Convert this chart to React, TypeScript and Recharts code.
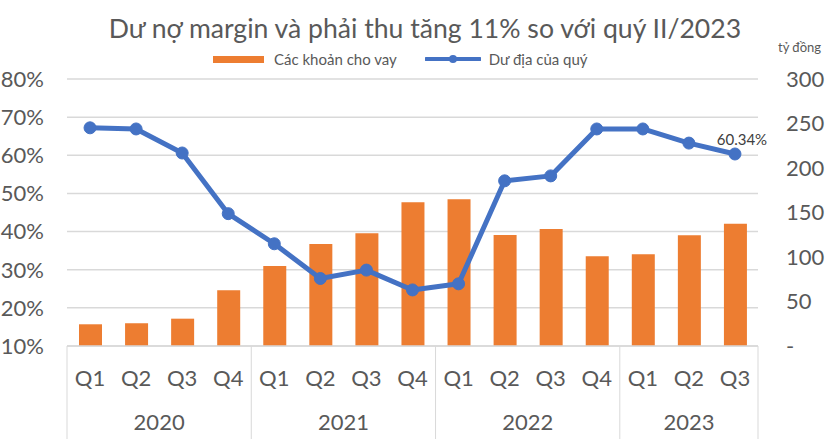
import { Bar, CartesianGrid, ComposedChart, Line, XAxis, YAxis } from "recharts";

// Quarterly loans (tỷ đồng, right axis) vs. remaining room (%, left axis).
const quarters = ["Q1", "Q2", "Q3", "Q4", "Q1", "Q2", "Q3", "Q4", "Q1", "Q2", "Q3", "Q4", "Q1", "Q2", "Q3"];
const years = [
  "2020", "2020", "2020", "2020",
  "2021", "2021", "2021", "2021",
  "2022", "2022", "2022", "2022",
  "2023", "2023", "2023",
];
const loans = [24.4, 25.5, 30.7, 62.6, 89.9, 114.6, 126.6, 161.4, 164.8, 124.7, 131.5, 100.8, 103, 124.4, 137.4];
const room = [67.2, 66.9, 60.6, 44.7, 36.8, 27.7, 29.9, 24.7, 26.3, 53.3, 54.6, 66.9, 66.9, 63.2, 60.34];
const pctTicks = [10, 20, 30, 40, 50, 60, 70, 80];
const amountTicks = [0, 50, 100, 150, 200, 250, 300];

const W = 830;
const H = 439;
const TOP = 79;
const LEFT_AXIS = 67;
const RIGHT_AXIS = 72;
const X_AXIS_H = 93;
const BAND = (W - LEFT_AXIS - RIGHT_AXIS) / quarters.length;

const FONT = "Lato, 'Open Sans', sans-serif";
const C = {
  text: "#595959",
  grid: "#d9d9d9",
  bar: "#ED7D31",
  line: "#4472C4",
};

const data = quarters.map((q, i) => ({ q, year: years[i], loans: loans[i], room: room[i] }));

// Two-level category axis: quarter label, plus year label and separators per group.
function QuarterTick(props: any) {
  const { x, y, payload } = props;
  const i: number = payload.index;
  const year = years[i];
  const start = years.indexOf(year);
  const end = years.lastIndexOf(year);
  const mid = (start + end) / 2;
  return (
    <g>
      <text x={x} y={y + 32} textAnchor="middle" dy="0.355em" fill={C.text} fontSize={22} fontFamily={FONT}>
        {payload.value}
      </text>
      {i === start && <line x1={x - BAND / 2} x2={x - BAND / 2} y1={y} y2={H} stroke={C.grid} />}
      {i === quarters.length - 1 && <line x1={x + BAND / 2} x2={x + BAND / 2} y1={y} y2={H} stroke={C.grid} />}
      {i === Math.floor(mid) && (
        <text x={x + (mid - i) * BAND} y={y + 76} textAnchor="middle" dy="0.355em" fill={C.text} fontSize={22} fontFamily={FONT}>
          {year}
        </text>
      )}
    </g>
  );
}

// Only the latest point carries a data label.
function LastLabel(props: any) {
  const { x, y, value, index } = props;
  if (index !== room.length - 1) return null;
  return (
    <text x={x + 7} y={y - 14} textAnchor="middle" dy="0.355em" fill="#404040" fontSize={15} fontFamily={FONT}>
      {`${Number(value).toFixed(2)}%`}
    </text>
  );
}

export default function App() {
  return (
    <div style={{ position: "relative", width: W, height: H, background: "#fff", fontFamily: FONT }}>
      <style>{"body{margin:0}"}</style>
      <div
        style={{
          position: "absolute",
          top: 10,
          left: 0,
          width: W,
          textAlign: "center",
          fontSize: 26.6,
          color: C.text,
          lineHeight: "36px",
          paddingLeft: 20,
          boxSizing: "border-box",
        }}
      >
        Dư nợ margin và phải thu tăng 11% so với quý II/2023
      </div>
      <div
        style={{
          position: "absolute",
          top: 49,
          left: 213,
          display: "flex",
          alignItems: "center",
          fontSize: 15,
          color: C.text,
          lineHeight: "20px",
        }}
      >
        <span style={{ display: "inline-block", width: 51, height: 7, background: C.bar, marginRight: 10 }} />
        <span>Các khoản cho vay</span>
        <svg width={56} height={12} style={{ marginLeft: 28, marginRight: 8 }}>
          <line x1={1} x2={55} y1={6} y2={6} stroke={C.line} strokeWidth={4} strokeLinecap="round" />
          <circle cx={28} cy={6} r={4} fill={C.line} />
        </svg>
        <span>Dư địa của quý</span>
      </div>
      <div style={{ position: "absolute", top: 38, left: 778, fontSize: 13, color: C.text, lineHeight: "18px" }}>
        tỷ đồng
      </div>
      <ComposedChart
        width={W}
        height={H}
        data={data}
        margin={{ top: TOP, right: 0, bottom: 0, left: 0 }}
        style={{ position: "absolute", top: 0, left: 0 }}
      >
        <CartesianGrid yAxisId="pct" vertical={false} stroke={C.grid} strokeWidth={1.5} />
        <XAxis
          dataKey="q"
          height={X_AXIS_H}
          interval={0}
          tickLine={false}
          tickSize={0}
          tickMargin={0}
          axisLine={{ stroke: C.grid, strokeWidth: 1.5 }}
          tick={<QuarterTick />}
        />
        <YAxis
          yAxisId="pct"
          orientation="left"
          width={LEFT_AXIS}
          domain={[10, 80]}
          ticks={pctTicks}
          interval={0}
          tickLine={false}
          axisLine={false}
          tickSize={0}
          tickMargin={23}
          tickFormatter={(v: number) => `${v}%`}
          tick={{ fill: C.text, fontSize: 22, fontFamily: FONT }}
        />
        <YAxis
          yAxisId="amt"
          orientation="right"
          width={RIGHT_AXIS}
          domain={[0, 300]}
          ticks={amountTicks}
          interval={0}
          tickLine={false}
          axisLine={false}
          tickSize={0}
          tickMargin={28}
          tickFormatter={(v: number) => (v === 0 ? "-" : String(v))}
          tick={{ fill: C.text, fontSize: 22, fontFamily: FONT, textAnchor: "start" }}
        />
        <Bar yAxisId="amt" dataKey="loans" fill={C.bar} barSize={23} isAnimationActive={false} />
        <Line
          yAxisId="pct"
          type="linear"
          dataKey="room"
          stroke={C.line}
          strokeWidth={5}
          strokeLinejoin="round"
          dot={{ r: 6, fill: C.line, stroke: C.line, strokeWidth: 1 }}
          activeDot={false}
          label={<LastLabel />}
          isAnimationActive={false}
        />
      </ComposedChart>
    </div>
  );
}
